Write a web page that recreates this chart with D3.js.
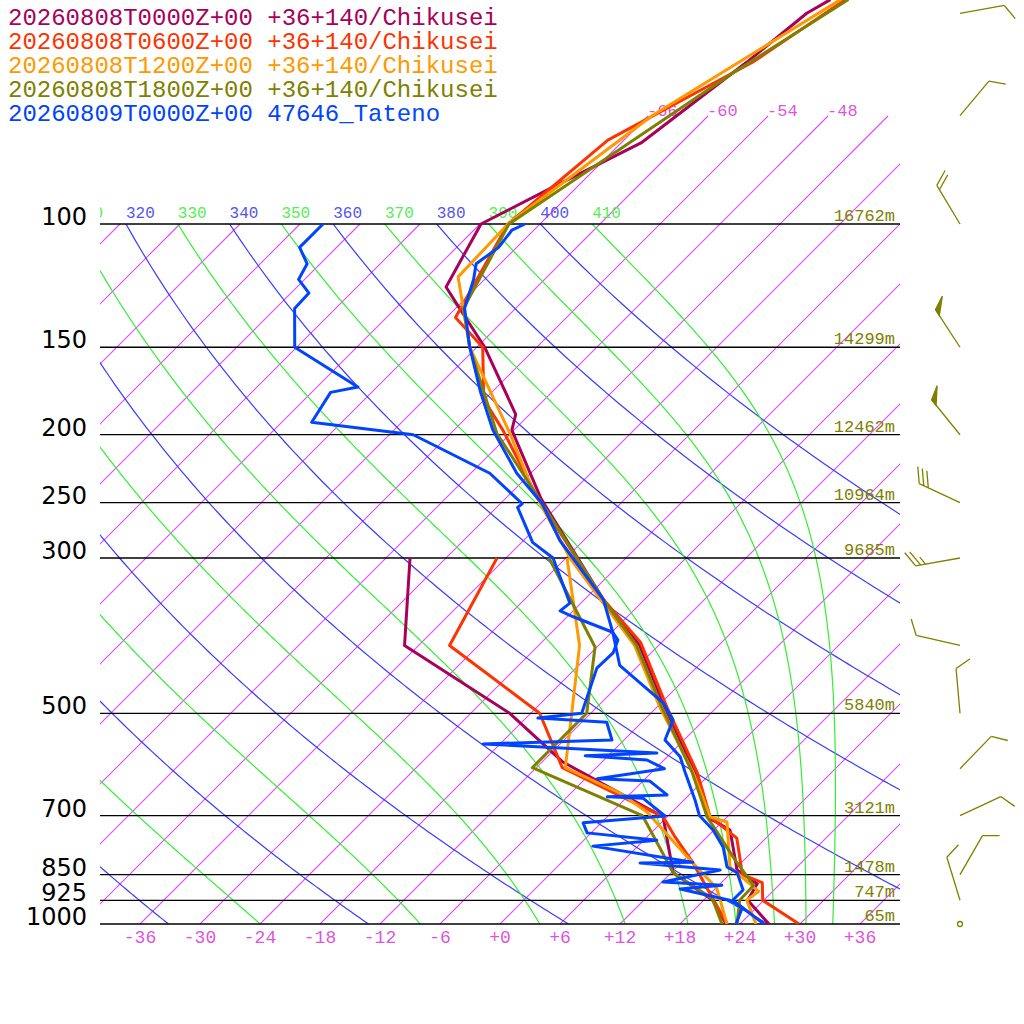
<!DOCTYPE html>
<html><head><meta charset="utf-8">
<script src="https://cdn.jsdelivr.net/npm/d3@7"></script>
<style>body{margin:0;background:#fff}</style>
</head><body>
<script>
// pressure / temperature profiles [hPa, degC]
const c00T = [[47.8,-59.4],[50,-60.4],[58.7,-61.5],[76.6,-64.0],[82.4,-66.2],[87.9,-68.2],[100,-71.9],[123,-69.1],[132,-65.6],[150,-59.2],[187,-49.4],[197,-48.2],[247,-38.4],[344,-22.1],[400,-13.9],[490,-5.2],[608,4.4],[703,10.0],[734,13.6],[837,18.3],[876,21.7],[925,22.4],[1000,26.9]];
const c00D = [[300,-45.6],[400,-37.4],[500,-20.1],[587,-9.9],[703,5.6],[758,8.3],[845,12.2],[925,18.9],[1000,22.6]];
const c06T = [[47.8,-57.9],[58.7,-60.9],[75.9,-67.6],[100,-69.2],[136,-65.1],[150,-59.4],[178,-54.1],[197,-49.1],[247,-38.7],[344,-22.1],[396,-14.1],[490,-5.0],[608,4.6],[703,10.3],[754,15.1],[850,19.3],[873,22.1],[925,23.9],[1000,29.9]];
const c06D = [[300,-36.9],[400,-32.9],[500,-17.1],[598,-9.4],[703,5.6],[751,8.8],[818,13.2],[1000,22.7]];
const c12T = [[47.8,-58.4],[70,-65.6],[100,-69.2],[119,-68.9],[150,-60.7],[199,-48.1],[240,-40.1],[300,-29.6],[400,-14.4],[490,-5.7],[608,4.2],[703,10.3],[715,12.5],[829,17.3],[898,22.6],[925,22.3],[1000,25.6]];
const c12D = [[300,-29.9],[400,-19.9],[500,-13.9],[598,-9.1],[650,-1.1],[692,3.5],[810,12.6],[889,18.1],[1000,22.7]];
const c18T = [[47.8,-57.6],[60.8,-61.8],[100,-69.1],[132,-65.2],[150,-60.7],[199,-49.4],[252,-37.6],[344,-22.1],[400,-14.2],[490,-5.5],[608,4.1],[703,10.0],[810,17.1],[881,21.5],[925,21.6],[1000,23.7]];
const c18D = [[300,-31.7],[402,-18.2],[500,-12.4],[598,-12.4],[700,3.4],[845,12.2],[920,18.7],[1000,22.2]];
const tatT = [[100,-67.5],[102,-68.2],[108,-67.8],[114,-68.4],[120,-67.1],[132,-65.1],[150,-60.7],[174,-55.1],[197,-50.1],[227,-43.4],[251,-37.8],[283,-32.4],[344,-22.1],[383,-17.9],[427,-13.9],[483,-5.8],[511,-3.1],[546,-1.9],[577,1.3],[608,3.4],[665,7.1],[700,9.1],[734,11.9],[776,14.6],[829,17.0],[845,18.6],[894,20.9],[925,20.9],[1000,26.4]];
const tatD = [[100,-87.7],[108,-87.7],[114,-85.3],[120,-84.6],[125.5,-82.2],[132,-82.1],[150,-78.2],[171,-67.9],[174,-70.1],[192,-69],[200,-57.6],[227,-46.1],[251,-39.8],[254,-39.9],[285,-34.9],[300,-31.3],[348,-25.1],[357,-25.3],[364,-23.4],[383,-17.9],[393,-16.6],[410,-15.8],[431,-15.9],[500,-12.9],[508,-16.8],[515,-9.5],[546,-7.2],[553,-19.7],[570,-1.4],[575,-8.3],[583,-1.7],[600,0.9],[620,-4.8],[625,0.7],[654,3.8],[658,-2.0],[661,1.7],[701,5.7],[717,-1.8],[741,-0.4],[759,7.3],[774,1.5],[816,13.1],[818,7.9],[837,16.6],[871,12.1],[880,18.3],[891,14.5],[925,20.6],[948,22.6],[1000,23.6]];

const legendText = ["20260808T0000Z+00 +36+140/Chikusei","20260808T0600Z+00 +36+140/Chikusei","20260808T1200Z+00 +36+140/Chikusei","20260808T1800Z+00 +36+140/Chikusei","20260809T0000Z+00 47646_Tateno"];
const colors = ["#a8005a","#ff3300","#ff9900","#808000","#0044ff"];

const pLevels = [100,150,200,250,300,500,700,850,925,1000];
const heights = ["16762m","14299m","12462m","10964m","9685m","5840m","3121m","1478m","747m","65m"];
const tTicks = [-36,-30,-24,-18,-12,-6,0,6,12,18,24,30,36];

const barbP = [50,70,100,150,200,250,300,400,500,600,700,850,925,1000];
const barbDir = [80,40,329,327,321,295,260,283,355,44,65,30,343,0];
const barbSpd = [10,10,20,50,50,30,25,10,10,10,10,10,10,0];

const W = 1024, H = 1024;
const svg = d3.select("body").append("svg").attr("width", W).attr("height", H);
const yP = d3.scaleLog().domain([1000,100]).range([924,224]);
const xT = d3.scaleLinear().domain([-40,40]).range([100,900]);
const X = (p, t) => xT(t) + (924 - yP(p));
const line = d3.line().x(d => X(d[0], d[1])).y(d => yP(d[0]));

const defs = svg.append("defs");
defs.append("clipPath").attr("id","plot").append("rect").attr("x",100).attr("y",224).attr("width",800).attr("height",700);
defs.append("clipPath").attr("id","iso").append("rect").attr("x",100).attr("y",112).attr("width",800).attr("height",812);
defs.append("clipPath").attr("id","all").append("rect").attr("x",100).attr("y",0).attr("width",800).attr("height",924);

// isotherms
const iso = svg.append("g").attr("clip-path","url(#iso)");
const pIsoTop = 1000 * Math.pow(10, -(924 - 116) / 700);
d3.range(-126, 42, 6).forEach(t => {
  const pTop = t >= -66 ? pIsoTop : 100;
  iso.append("line")
    .attr("x1", X(1000,t)).attr("y1", yP(1000)).attr("x2", X(pTop,t)).attr("y2", yP(pTop))
    .attr("stroke","rgb(225,70,255)").attr("stroke-width",1.1);
  if (t >= -66 && t <= -48)
    svg.append("text").attr("x", X(pTop,t) - 1).attr("y", 116).text(t)
      .attr("font-family","Liberation Mono").attr("font-size",17).attr("fill","#dd55dd");
});

// dry adiabats
const gAd = svg.append("g").attr("clip-path","url(#plot)");
const gLab = svg.append("g").attr("clip-path","url(#all)");
const pArr = d3.range(100, 1001, 5);
d3.range(240, 401, 20).forEach(th => {
  const pts = pArr.map(p => [p, th * Math.pow(p/1000, 0.2857) - 273.15]);
  gAd.append("path").attr("d", line(pts)).attr("stroke","#3b3bff").attr("stroke-width",1.2).attr("fill","none");
  if (X(100, pts[0][1]) > 70)
    gLab.append("text").attr("x", X(100, pts[0][1])).attr("y", 218).text(th)
      .attr("font-family","Liberation Mono").attr("font-size",16).attr("fill","#5555ee");
});

// moist adiabats (integrated down from 100 hPa)
function satMix(p, T) { const es = 6.112 * Math.exp(17.67 * (T - 273.15) / (T - 29.65)); return 0.622 * es / (p - es); }
d3.range(250, 411, 20).forEach(th => {
  let T = th * Math.pow(0.1, 0.2857), p = 100;
  const pts = [[p, T - 273.15]];
  while (p < 1000) {
    const dp = 2, rs = satMix(p, T);
    const dTdp = (287 * T + 2.5e6 * rs) / (p * (1004 + 2.5e6 * 2.5e6 * rs * 0.622 / (287 * T * T)));
    T += dTdp * dp; p += dp;
    pts.push([p, T - 273.15]);
  }
  gAd.append("path").attr("d", line(pts)).attr("stroke","#33ee33").attr("stroke-width",1.2).attr("fill","none");
  if (X(100, pts[0][1]) > 70)
    gLab.append("text").attr("x", X(100, pts[0][1])).attr("y", 218).text(th)
      .attr("font-family","Liberation Mono").attr("font-size",16).attr("fill","#55ee55");
});

// pressure lines
pLevels.forEach((p, i) => {
  svg.append("line").attr("x1",100).attr("x2",900).attr("y1",yP(p)).attr("y2",yP(p))
    .attr("stroke", "#000").attr("stroke-width",1.3);
  svg.append("text").attr("x",87).attr("y",yP(p) + 1).attr("text-anchor","end").text(p)
    .attr("font-family","DejaVu Sans").attr("font-size",24).attr("fill","#000");
  svg.append("text").attr("x",895).attr("y",yP(p) - 3).attr("text-anchor","end").text(heights[i])
    .attr("font-family","Liberation Mono").attr("font-size",17).attr("fill","#808000");
});

// temperature ticks
tTicks.forEach(t => {
  svg.append("text").attr("x", xT(t)).attr("y", 943).attr("text-anchor","middle")
    .text(t > 0 ? "+" + t : (t === 0 ? "+0" : t))
    .attr("font-family","Liberation Mono").attr("font-size",18).attr("fill","#dd55dd");
});

// profiles
const profiles = [[c00T,c00D],[c06T,c06D],[c12T,c12D],[c18T,c18D],[tatT,tatD]];
const gProf = svg.append("g").attr("clip-path","url(#all)");
profiles.forEach((pr, i) => {
  pr.forEach(d => gProf.append("path").attr("d", line(d)).attr("stroke", colors[i])
    .attr("stroke-width",3).attr("fill","none").attr("stroke-linejoin","round"));
});

// legend
legendText.forEach((t, i) => {
  svg.append("text").attr("x",8).attr("y",25 + i * 24).text(t)
    .attr("font-family","Liberation Mono").attr("font-size",24).attr("fill",colors[i]);
});

// wind barbs
const gB = svg.append("g").attr("stroke","#808000").attr("stroke-width",1.3).attr("fill","none");
barbP.forEach((p, i) => {
  const bx = 960, by = yP(p), spd = barbSpd[i];
  if (spd === 0) { gB.append("circle").attr("cx",bx).attr("cy",by).attr("r",2.5); return; }
  const a = barbDir[i] * Math.PI / 180;
  const u = [Math.sin(a), -Math.cos(a)], n = [-u[1], u[0]];
  const L = 45, tip = [bx + u[0]*L, by + u[1]*L];
  gB.append("line").attr("x1",bx).attr("y1",by).attr("x2",tip[0]).attr("y2",tip[1]);
  const fd = [n[0]*0.87 + u[0]*0.5, n[1]*0.87 + u[1]*0.5];
  let s = spd, pos = 0;
  while (s >= 50) {
    const b0 = [tip[0] - u[0]*pos, tip[1] - u[1]*pos], b1 = [b0[0] - u[0]*7, b0[1] - u[1]*7];
    gB.append("path").attr("d", `M${b0}L${b0[0]+fd[0]*15},${b0[1]+fd[1]*15}L${b1}Z`).attr("fill","#808000");
    s -= 50; pos += 9;
  }
  while (s >= 10) {
    const b0 = [tip[0] - u[0]*pos, tip[1] - u[1]*pos];
    gB.append("line").attr("x1",b0[0]).attr("y1",b0[1]).attr("x2",b0[0]+fd[0]*17).attr("y2",b0[1]+fd[1]*17);
    s -= 10; pos += 5;
  }
  if (s >= 5) {
    if (pos === 0) pos = 5;
    const b0 = [tip[0] - u[0]*pos, tip[1] - u[1]*pos];
    gB.append("line").attr("x1",b0[0]).attr("y1",b0[1]).attr("x2",b0[0]+fd[0]*9).attr("y2",b0[1]+fd[1]*9);
  }
});
</script>
</body></html>
